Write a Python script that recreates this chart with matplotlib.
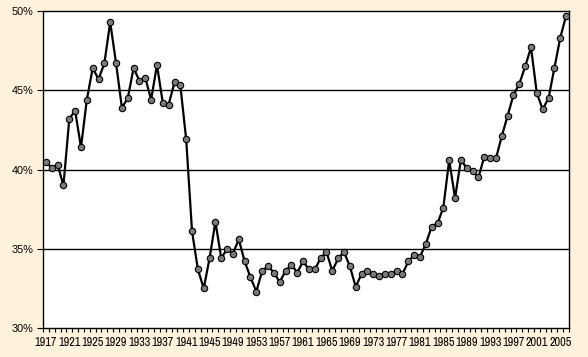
import matplotlib
matplotlib.use("Agg")
import matplotlib.pyplot as plt
from matplotlib.ticker import FixedLocator, FuncFormatter

years = list(range(1917, 2007))
top_decile_share = [
    40.5, 40.1, 40.3, 39.0, 43.2, 43.7, 41.4, 44.4, 46.4, 45.7,   # 1917-1926
    46.7, 49.3, 46.7, 43.9, 44.5, 46.4, 45.6, 45.8, 44.4, 46.6,   # 1927-1936
    44.2, 44.1, 45.5, 45.3, 41.9, 36.1, 33.7, 32.5, 34.4, 36.7,   # 1937-1946
    34.4, 35.0, 34.7, 35.6, 34.2, 33.2, 32.3, 33.6, 33.9, 33.5,   # 1947-1956
    32.9, 33.6, 34.0, 33.5, 34.2, 33.7, 33.7, 34.4, 34.8, 33.6,   # 1957-1966
    34.4, 34.8, 33.9, 32.6, 33.4, 33.6, 33.4, 33.3, 33.4, 33.4,   # 1967-1976
    33.6, 33.4, 34.2, 34.6, 34.5, 35.3, 36.4, 36.6, 37.6, 40.6,   # 1977-1986
    38.2, 40.6, 40.1, 39.9, 39.5, 40.8, 40.7, 40.7, 42.1, 43.4,   # 1987-1996
    44.7, 45.4, 46.5, 47.7, 44.8, 43.8, 44.5, 46.4, 48.3, 49.7,   # 1997-2006
]
y_ticks = [30, 35, 40, 45, 50]
x_label_every = 4

bg = "#FFF2DC"
fig = plt.figure(figsize=(5.88, 3.57), dpi=100, facecolor=bg)
ax = fig.add_axes([43/588, 1-328/357, 526/588, 317/357])
ax.set_facecolor("white")

idx = list(range(len(years)))
ax.plot(idx, top_decile_share, color="black", lw=1.6, marker="o",
        markersize=4.6, markerfacecolor="#7a7a7a", markeredgecolor="black",
        markeredgewidth=0.8, zorder=3)

ax.set_xlim(-0.5, len(years) - 0.5)
ax.set_ylim(30, 50)

for v in y_ticks[1:-1]:
    ax.axhline(v, color="black", lw=1.0, zorder=1)

ax.yaxis.set_major_locator(FixedLocator(y_ticks))
ax.yaxis.set_major_formatter(FuncFormatter(lambda v, p: f"{int(v)}%"))

label_pos = [i for i in idx if i % x_label_every == 0]
ax.xaxis.set_major_locator(FixedLocator(label_pos))
ax.set_xticklabels([str(years[i]) for i in label_pos])
ax.xaxis.set_minor_locator(FixedLocator([i - 0.5 for i in range(len(years) + 1)]))
ax.tick_params(axis="x", which="major", length=0, pad=6.5)
ax.tick_params(axis="x", which="minor", length=3, width=0.8, direction="out", color="black")
ax.tick_params(axis="y", which="major", length=4, width=0.8, direction="out", pad=3)

for lab in ax.get_xticklabels():
    lab.set_fontfamily(["Liberation Sans Narrow", "Archivo Narrow", "DejaVu Sans"])
    lab.set_fontsize(8.8)
for lab in ax.get_yticklabels():
    lab.set_fontfamily(["Liberation Sans", "DejaVu Sans"])
    lab.set_fontsize(7.8)

for s in ax.spines.values():
    s.set_color("black")
    s.set_linewidth(1.0)

fig.savefig("out.png", dpi=100, facecolor=bg)
